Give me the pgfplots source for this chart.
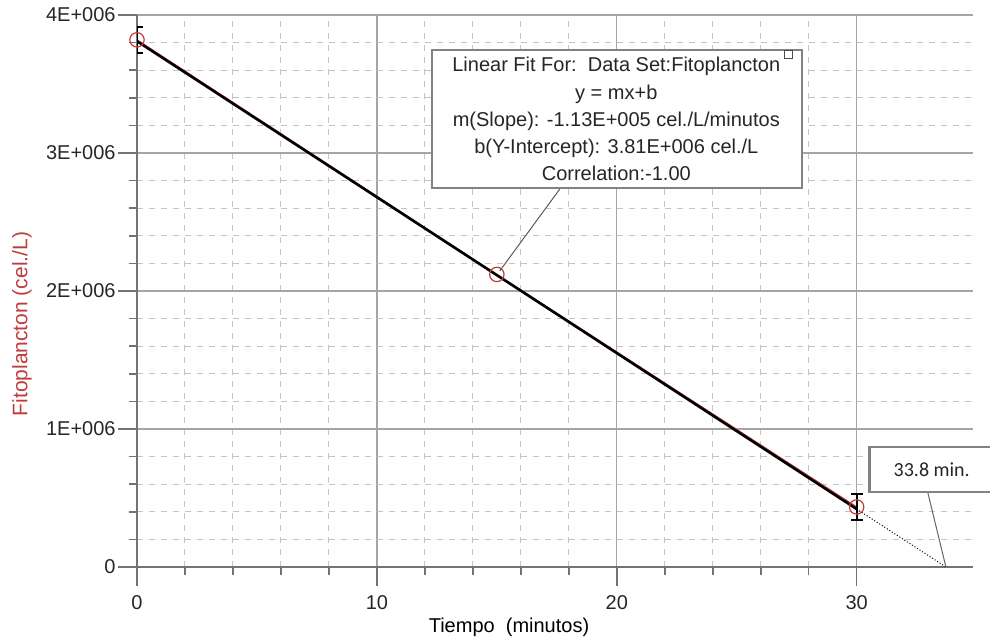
\documentclass[border=0pt]{standalone}
\usepackage{pgfplots}
\pgfplotsset{compat=1.18}
\usepackage{fontspec}
\setmainfont{Liberation Sans}
\newfontfamily\calibri{Carlito}
\definecolor{axgray}{RGB}{115,115,115}
\definecolor{majgrid}{RGB}{165,165,165}
\definecolor{mingrid}{RGB}{195,195,195}
\definecolor{labred}{RGB}{192,60,60}
\definecolor{boxgray}{RGB}{130,130,130}
\begin{document}
\begin{tikzpicture}
\useasboundingbox (0,0) rectangle (495pt,321.5pt);
\clip (0,0) rectangle (495pt,321.5pt);
\begin{axis}[
  at={(68.5pt,38pt)}, anchor=south west,
  scale only axis, width=418pt, height=276pt,
  xmin=0, xmax=34.85, ymin=0, ymax=4e6,
  axis lines=left, axis line style={-, axgray, line width=0.9pt},
  xtick={0,10,20,30},
  ytick={0,1e6,2e6,3e6,4e6},
  yticklabels={0,1E+006,2E+006,3E+006,4E+006},
  minor x tick num=4, minor y tick num=4,
  tick align=outside,
  major tick length=9.5pt, minor tick length=4pt,
  every tick/.style={axgray, line width=0.8pt},
  grid=both,
  major grid style={majgrid, line width=0.7pt, solid},
  minor grid style={mingrid, line width=0.5pt, dashed},
  /pgf/number format/assume math mode=true,
  tick label style={font=\fontsize{10}{12}\selectfont, text=black!85},
  yticklabel style={inner sep=1pt},
  xticklabel style={yshift=-1pt},
  xlabel={Tiempo\ \ (minutos)},
  ylabel={Fitoplancton (cel./L)},
  xlabel style={at={(rel axis cs:0.445,-0.1087)}, anchor=center, font=\fontsize{10}{12}\selectfont},
  ylabel style={at={(rel axis cs:-0.1376,0.44)}, anchor=center, rotate=0, font=\fontsize{10.5}{12}\selectfont, text=labred},
]
% data line (red) beneath the fit
\addplot[labred, line width=0.6pt] coordinates {(0,3.82e6) (15,2.12e6) (30,0.435e6)};
% linear fit
\addplot[black, line width=1.3pt] coordinates {(0,3.81e6) (30,0.42e6)};
\addplot[black, line width=0.5pt, densely dotted] coordinates {(30,0.42e6) (33.72,0)};
% data points with error bars
\addplot[labred, only marks, mark=o, mark size=3.6pt, mark options={line width=0.6pt},
  error bars/.cd, y dir=both, y explicit,
  error bar style={black, line width=1pt},
  error mark options={black, rotate=90, mark size=3pt, line width=1pt}]
  coordinates {(0,3.82e6) +- (0,0.095e6) (30,0.435e6) +- (0,0.095e6)};
\addplot[labred, only marks, mark=o, mark size=3.6pt, mark options={line width=0.6pt}]
  coordinates {(15,2.12e6)};
% anchor coordinates for annotations
\coordinate (fbSW) at (axis cs:12.29,2.746e6);
\coordinate (fbNE) at (axis cs:27.71,3.746e6);
\coordinate (fbC) at (axis cs:19.98,3.246e6);
\coordinate (fbL1) at (axis cs:17.625,2.739e6);
\coordinate (fbL2) at (axis cs:15.12,2.145e6);
\coordinate (fbSq) at (axis cs:27.17,3.717e6);
\coordinate (zbSW) at (axis cs:30.54,0.5435e6);
\coordinate (zbNE) at (axis cs:36.0,0.8696e6);
\coordinate (zbC) at (axis cs:33.13,0.7065e6);
\coordinate (zbL1) at (axis cs:32.96,0.5435e6);
\coordinate (zbL2) at (axis cs:33.72,0);
\end{axis}
% fit annotation
\draw[black!65, line width=0.5pt] (fbL1) -- (fbL2);
\draw[boxgray, line width=1pt, fill=white] (fbSW) rectangle (fbNE);
\node[draw=black!70, fill=white, line width=0.5pt, minimum size=4pt, inner sep=0pt] at (fbSq) {};
\node[align=center, font=\fontsize{10}{13.6}\selectfont, text=black!85] at (fbC)
  {Linear Fit For:\ \ Data Set:Fitoplancton\\ y = mx+b\\ m(Slope): -1.13E+005 cel./L/minutos\\ b(Y-Intercept): 3.81E+006 cel./L\\ Correlation:-1.00};
% zero-crossing annotation
\draw[black!60, line width=0.5pt] (zbL1) -- (zbL2);
\draw[boxgray, line width=1.2pt, fill=white] (zbSW) rectangle (zbNE);
\node[font=\calibri\fontsize{10}{12}\selectfont, text=black!85] at (zbC) {33.8 min.};
\end{tikzpicture}
\end{document}
